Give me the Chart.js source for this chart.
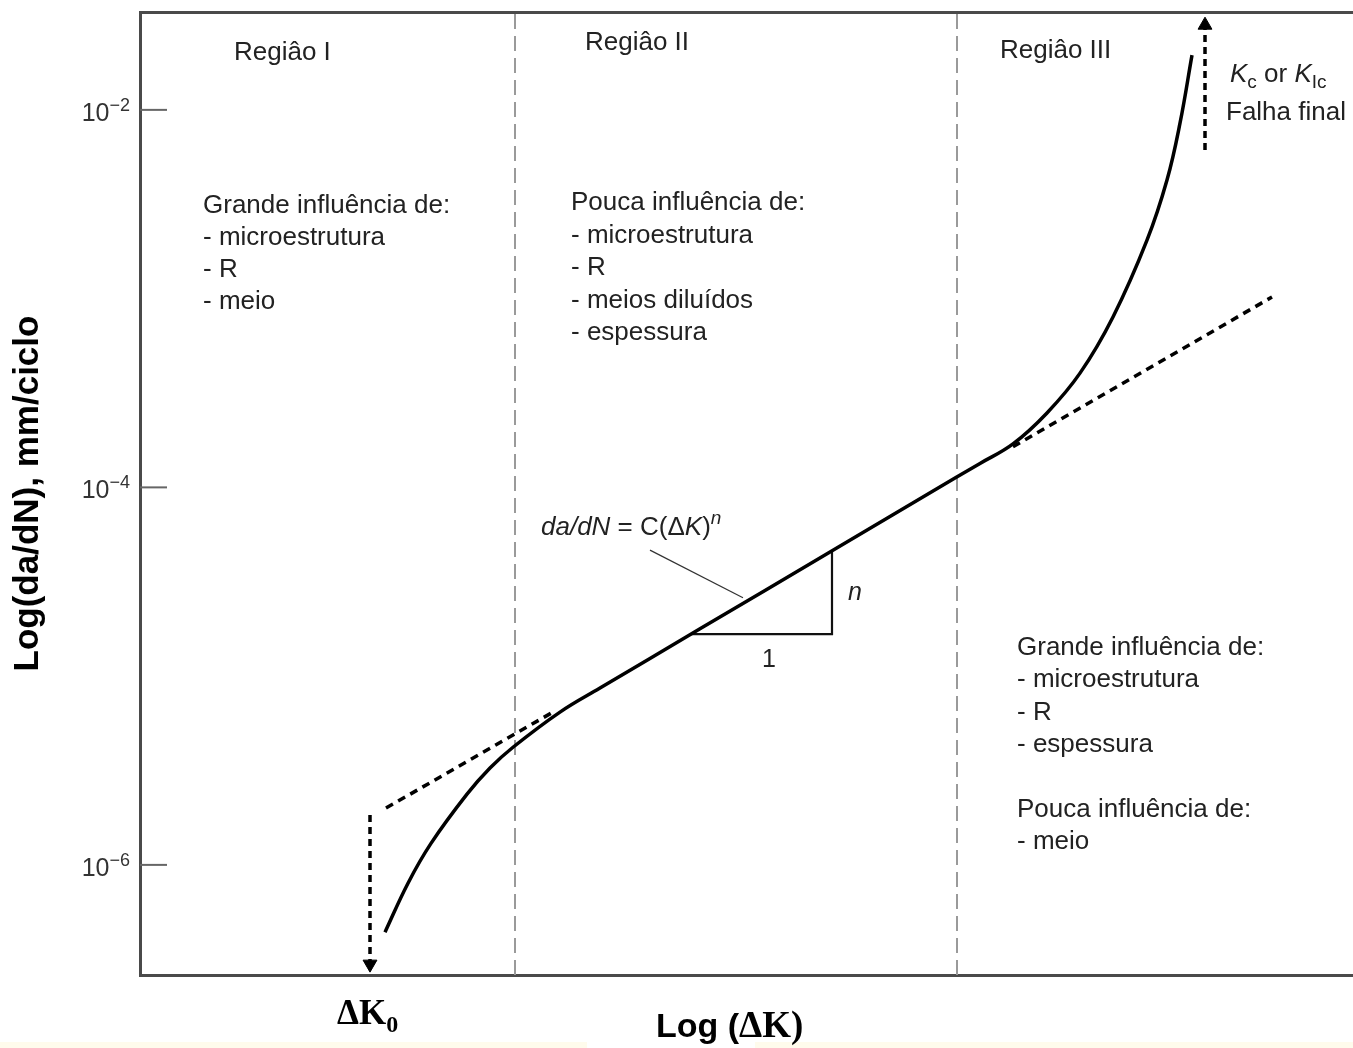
<!DOCTYPE html>
<html>
<head>
<meta charset="utf-8">
<title>Log(da/dN) x Log(ΔK)</title>
<script src="https://cdn.jsdelivr.net/npm/chart.js@4.4.0/dist/chart.umd.min.js"></script>
<style>
  html, body { margin: 0; padding: 0; background: #fff; overflow: hidden; }
  canvas { display: block; }
</style>
</head>
<body>
<canvas id="chart" width="1353" height="1048"></canvas>
<script>
// Curva de propagação de trinca por fadiga: da/dN x ΔK (escala log)
// eixo x = log(ΔK) em unidades arbitrárias (sem marcas), eixo y = da/dN em mm/ciclo
const xRange = [0, 121.3];
const yRange = [2.61e-7, 3.3e-2];
const yTicks = [1e-2, 1e-4, 1e-6];

// curva principal (regiões I, II e III)
const curveLogDK = [24.5, 26.8, 29.1, 32.7, 35.0, 37.3, 42.0, 46.0, 56.0, 69.0, 81.5, 84.0, 87.3, 90.7, 94.0, 97.3, 100.7, 102.7, 104.0, 105.2];
const curveRate = [4.4e-7, 8.0e-7, 1.3e-6, 2.37e-6, 3.26e-6, 4.2e-6, 6.45e-6, 8.65e-6, 1.78e-5, 4.54e-5, 1.12e-4, 1.34e-4, 1.7e-4, 2.48e-4, 4.03e-4, 8.0e-4, 2.04e-3, 4.25e-3, 8.5e-3, 1.95e-2];

// extrapolações da lei de Paris (tracejadas)
const parisLowLogDK = [24.6, 41.3];
const parisLowRate = [2.0e-6, 6.45e-6];
const parisHighLogDK = [87.3, 113.2];
const parisHighRate = [1.64e-4, 1.02e-3];

// limites entre regiões
const regionBounds = [37.5, 81.7];

// setas: limiar ΔK0 e falha final Kc
const thresholdLogDK = [23.0, 23.0];
const thresholdRate = [1.84e-6, 2.98e-7];
const failureLogDK = [106.5, 106.5];
const failureRate = [6.12e-3, 2.81e-2];

// triângulo da inclinação n e linha de chamada da equação
const slopeLogDK = [55.0, 69.2, 69.2];
const slopeRate = [1.67e-5, 1.67e-5, 4.6e-5];
const leaderLogDK = [51.0, 60.3];
const leaderRate = [4.65e-5, 2.6e-5];

const SANS = "'Liberation Sans', Arial, Helvetica, sans-serif";
const SERIF = "'Liberation Serif', 'Times New Roman', serif";
const TEXT = '#222';

const pts = (xs, ys) => xs.map((x, i) => ({ x: x, y: ys[i] }));

function drawRuns(ctx, x, y, runs) {
    runs.forEach(r => {
        ctx.font = r.font;
        ctx.fillText(r.t, x, y + (r.dy || 0));
        x += ctx.measureText(r.t).width;
    });
}

function drawBlock(ctx, x, y, lines, step) {
    ctx.font = '26px ' + SANS;
    lines.forEach((l, i) => ctx.fillText(l, x, y + i * step));
}

// sem folga extra em volta da área do gráfico
const noPadding = (scale) => {
    scale.paddingTop = 0;
    scale.paddingBottom = 0;
    scale.paddingLeft = 0;
    scale.paddingRight = 0;
};

const background = {
    id: 'background',
    beforeDraw(chart) {
        const { ctx, width, height } = chart;
        ctx.save();
        ctx.fillStyle = '#fff';
        ctx.fillRect(0, 0, width, height);
        ctx.fillStyle = '#fffbec';
        ctx.fillRect(0, 1042, 587, 6);
        ctx.fillRect(755, 1042, width - 755, 6);
        ctx.restore();
    }
};

const annotations = {
    id: 'annotations',
    afterDraw(chart) {
        const { ctx, chartArea } = chart;
        const y = chart.scales.y;
        ctx.save();

        // marcas do eixo y voltadas para dentro, rótulos 10^n
        y.ticks.forEach(t => {
            const py = y.getPixelForValue(t.value);
            ctx.strokeStyle = '#666';
            ctx.lineWidth = 2;
            ctx.beginPath();
            ctx.moveTo(chartArea.left, py);
            ctx.lineTo(chartArea.left + 27, py);
            ctx.stroke();

            const exp = '\u2212' + Math.abs(Math.round(Math.log10(t.value)));
            ctx.fillStyle = '#333';
            ctx.textAlign = 'right';
            ctx.font = '18px ' + SANS;
            ctx.fillText(exp, chartArea.left - 10, py + 1);
            const ew = ctx.measureText(exp).width;
            ctx.font = '25px ' + SANS;
            ctx.fillText('10', chartArea.left - 10 - ew, py + 11);
        });

        ctx.fillStyle = TEXT;
        ctx.textBaseline = 'alphabetic';
        ctx.textAlign = 'left';

        ctx.font = '26px ' + SANS;
        ctx.fillText('Regiâo I', 234, 60);
        ctx.fillText('Regiâo II', 585, 50);
        ctx.fillText('Regiâo III', 1000, 58);

        drawBlock(ctx, 203, 213, ['Grande influência de:', '- microestrutura', '- R', '- meio'], 32);
        drawBlock(ctx, 571, 210, ['Pouca influência de:', '- microestrutura', '- R', '- meios diluídos', '- espessura'], 32.5);
        drawBlock(ctx, 1017, 655, ['Grande influência de:', '- microestrutura', '- R', '- espessura'], 32.3);
        drawBlock(ctx, 1017, 817, ['Pouca influência de:', '- meio'], 32);

        drawRuns(ctx, 541, 535, [
            { t: 'da/dN', font: 'italic 26px ' + SANS },
            { t: ' = C(\u0394', font: '26px ' + SANS },
            { t: 'K', font: 'italic 26px ' + SANS },
            { t: ')', font: '26px ' + SANS },
            { t: 'n', font: 'italic 19px ' + SANS, dy: -11 }
        ]);
        ctx.font = 'italic 25px ' + SANS;
        ctx.fillText('n', 848, 600);
        ctx.font = '25px ' + SANS;
        ctx.fillText('1', 762, 667);

        drawRuns(ctx, 1230, 82, [
            { t: 'K', font: 'italic 26px ' + SANS },
            { t: 'c', font: '19px ' + SANS, dy: 6 },
            { t: ' or ', font: '26px ' + SANS },
            { t: 'K', font: 'italic 26px ' + SANS },
            { t: 'Ic', font: '19px ' + SANS, dy: 6 }
        ]);
        ctx.font = '26px ' + SANS;
        ctx.fillText('Falha final', 1226, 120);

        ctx.fillStyle = '#000';
        drawRuns(ctx, 337, 1024, [
            { t: '\u0394K', font: 'bold 35px ' + SERIF },
            { t: '0', font: 'bold 24px ' + SERIF, dy: 8 }
        ]);
        drawRuns(ctx, 656, 1037, [
            { t: 'Log (', font: 'bold 34px ' + SANS },
            { t: '\u0394K)', font: 'bold 37px ' + SERIF }
        ]);
        ctx.restore();
    }
};

const solid = (data, width, color) => ({
    data: data,
    borderColor: color,
    borderWidth: width,
    pointRadius: 0,
    fill: false
});

const dashedArrow = (xs, ys, rotation) => ({
    data: pts(xs, ys),
    borderColor: '#000',
    backgroundColor: '#000',
    borderWidth: 3.5,
    borderDash: [7, 5],
    pointStyle: 'triangle',
    pointRadius: [0, 8],
    pointRotation: rotation,
    pointBorderWidth: 1,
    pointBorderColor: '#000',
    fill: false
});

const datasets = [
    Object.assign(solid(pts(curveLogDK, curveRate), 3.5, '#000'), { tension: 0.4 }),
    Object.assign(solid(pts(parisLowLogDK, parisLowRate), 3.5, '#000'), { borderDash: [8, 6] }),
    Object.assign(solid(pts(parisHighLogDK, parisHighRate), 3.5, '#000'), { borderDash: [8, 6] }),
    dashedArrow(thresholdLogDK, thresholdRate, 180),
    dashedArrow(failureLogDK, failureRate, 0),
    solid(pts(slopeLogDK, slopeRate), 2.2, '#111'),
    solid(pts(leaderLogDK, leaderRate), 1.2, '#333')
].concat(regionBounds.map(b => Object.assign(
    solid([{ x: b, y: yRange[0] }, { x: b, y: yRange[1] }], 2, '#9a9a9a'),
    { borderDash: [15, 7] }
)));

new Chart(document.getElementById('chart'), {
    type: 'line',
    data: { datasets: datasets },
    options: {
        responsive: false,
        animation: false,
        layout: { padding: 0, autoPadding: false },
        plugins: {
            legend: { display: false },
            tooltip: { enabled: false }
        },
        scales: {
            x: {
                type: 'linear',
                min: xRange[0],
                max: xRange[1],
                ticks: { display: false },
                grid: { display: false, drawTicks: false },
                border: { display: true, color: '#4a4a4a', width: 3 },
                afterFit: (scale) => { scale.height = 73; noPadding(scale); }
            },
            xTop: {
                type: 'linear',
                position: 'top',
                min: xRange[0],
                max: xRange[1],
                ticks: { display: false },
                grid: { display: false, drawTicks: false },
                border: { display: true, color: '#4a4a4a', width: 3 },
                afterFit: (scale) => { scale.height = 12; noPadding(scale); }
            },
            y: {
                type: 'logarithmic',
                min: yRange[0],
                max: yRange[1],
                afterBuildTicks: (scale) => {
                    scale.ticks = yTicks.map(v => ({ value: v }));
                },
                ticks: { display: false },
                grid: { display: false, drawTicks: false },
                border: { display: true, color: '#4a4a4a', width: 3 },
                title: {
                    display: true,
                    text: 'Log(da/dN), mm/ciclo',
                    color: '#000',
                    font: { family: SANS, size: 35, weight: 'bold' },
                    padding: { top: 7, bottom: 0 }
                },
                afterFit: (scale) => { scale.width = 140; noPadding(scale); }
            }
        }
    },
    plugins: [background, annotations]
});
</script>
</body>
</html>
